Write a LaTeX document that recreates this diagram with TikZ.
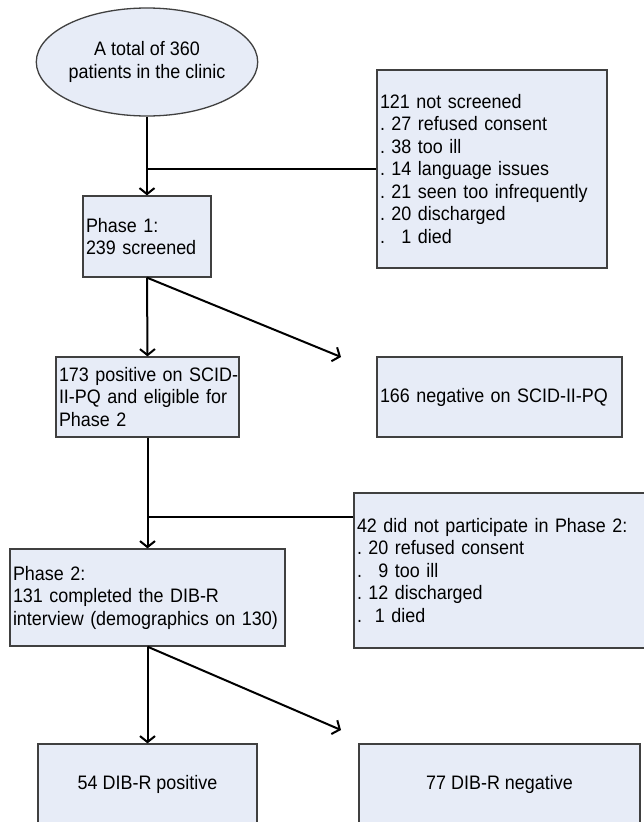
\documentclass[tikz,border=0pt]{standalone}
\usepackage{fontspec}
\setmainfont{Liberation Sans}[FakeStretch=0.92]
\usetikzlibrary{shapes.geometric,arrows.meta}
\definecolor{boxfill}{RGB}{231,236,247}
\definecolor{boxline}{RGB}{64,64,64}
\begin{document}
\begin{tikzpicture}[x=1pt,y=-1pt,
  box/.style={draw=boxline, line width=1.3pt, fill=boxfill, inner xsep=3pt, inner ysep=0pt,
    font=\fontsize{19.5pt}{22.5pt}\selectfont\frenchspacing},
  lbox/.style={box, align=left},
  cbox/.style={box, align=center},
  conn/.style={line width=2pt, draw=black},
  arr/.style={conn, -{Straight Barb[length=6pt,width=15pt]}}]
\useasboundingbox (0,0) rectangle (643,822);
\fill[white] (0,0) rectangle (643,822);

\node[cbox, ellipse, minimum width=205pt, minimum height=108pt, inner sep=0pt] (tot) at (147,62)
  {A total of 360\\patients in the clinic};
\node[lbox, minimum width=230pt, minimum height=198pt, text width=224pt] (ns) at (492,169)
  {121 not screened\\
   . 27 refused consent\\
   . 38 too ill\\
   . 14 language issues\\
   . 21 seen too infrequently\\
   . 20 discharged\\
   . \phantom{0}1 died};
\node[lbox, minimum width=128pt, minimum height=81pt, text width=122pt] (p1) at (147,236.5)
  {Phase 1:\\239 screened};
\node[lbox, minimum width=183pt, minimum height=80pt, text width=177pt] (pos) at (147.5,397)
  {\mbox{173 positive on SCID-}\\\mbox{II-PQ and eligible for}\\Phase 2};
\node[lbox, minimum width=245pt, minimum height=80pt, text width=239pt] (neg) at (499.5,397)
  {\mbox{166 negative on SCID-II-PQ}};
\node[lbox, minimum width=310pt, minimum height=155pt, text width=304pt] (np) at (509,570.5)
  {42 did not participate in Phase 2:\\
   . 20 refused consent\\
   . \phantom{0}9 too ill\\
   . 12 discharged\\
   . \ 1 died};
\node[lbox, minimum width=275pt, minimum height=97pt, text width=269pt] (p2) at (147.5,597.5)
  {Phase 2:\\131 completed the DIB-R\\\mbox{interview (demographics on 130)}};
\node[cbox, minimum width=219pt, minimum height=80pt] (dp) at (147.5,784)
  {54 DIB-R positive};
\node[cbox, minimum width=281pt, minimum height=80pt] (dn) at (499.5,784)
  {77 DIB-R negative};

\draw[arr] (tot.south) -- (p1.north);
\coordinate (j1) at (p1.north |- ns.west);
\draw[conn] (j1) -- (ns.west);
\draw[arr] (p1.south) -- (pos.north);
\coordinate (d1) at (341,357);
\draw[arr] (p1.south) -- (d1);
\draw[arr] (pos.south) -- (p2.north);
\coordinate (j2) at (147.5,517);
\draw[conn] (j2) -- (j2 -| np.west);
\draw[arr] (p2.south) -- (dp.north);
\coordinate (d2) at (341,730);
\draw[arr] (p2.south) -- (d2);
\end{tikzpicture}
\end{document}
